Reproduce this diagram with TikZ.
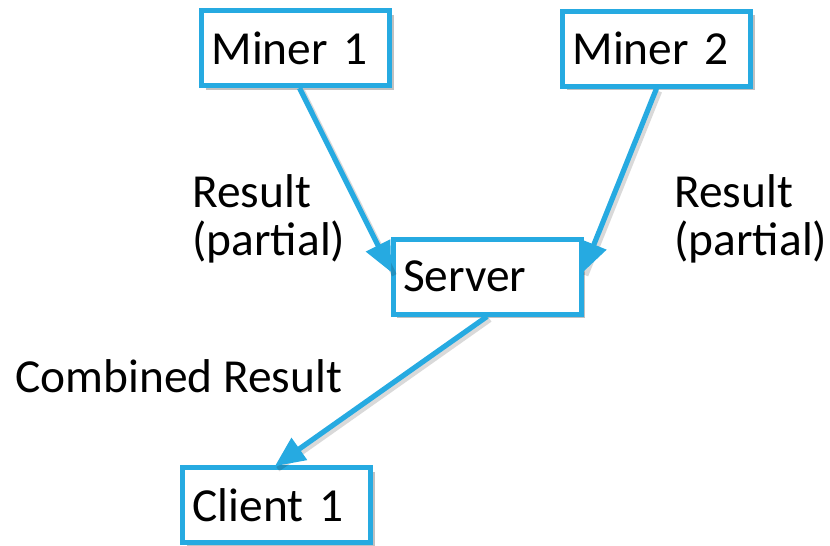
\documentclass[tikz,border=0pt]{standalone}
\usepackage{fontspec}
\setmainfont{Carlito}
\usetikzlibrary{arrows.meta,shadows}
\definecolor{lineblue}{RGB}{38,170,225}
\tikzset{
  box/.style={draw=lineblue, line width=2.5pt, fill=white, rectangle,
    inner xsep=5pt, inner ysep=0pt, text width=84pt, align=left,
    minimum height=37.5pt,
    drop shadow={shadow xshift=2pt, shadow yshift=-2pt, opacity=0.3, fill=black!80}},
  lbl/.style={inner sep=0pt, align=left},
  conn/.style={draw=lineblue, line width=2.6pt, -{Triangle[length=15pt,width=13pt]}, shorten >=-1pt,
    preaction={draw=black, opacity=0.15, line width=2.6pt, -, transform canvas={xshift=1.5pt, yshift=-1.5pt}}}
}
\begin{document}
\begin{tikzpicture}[x=0.5pt, y=-0.5pt, font=\fontsize{23.7pt}{24pt}\selectfont]
\useasboundingbox (0,0) rectangle (830,546);
\node[box] (m1) at (295.5,48) {Miner 1};
\node[box] (m2) at (656.5,48.5) {Miner 2};
\node[box] (srv) at (487,276.5) {Server};
\node[box] (cl) at (276.5,505) {Client 1};

\node[lbl, anchor=base west] (l1) at (192,255) {Result\\(partial)};
\node[lbl, anchor=base west] (l2) at (674,255) {Result\\(partial)};
\node[lbl, anchor=base west] (l3) at (15,392) {Combined Result};

\draw[conn] ([xshift=2pt]m1.south) -- ([yshift=3pt]srv.west);
\draw[conn] (m2.south) -- ([yshift=3pt]srv.east);
\draw[conn] (srv.south) -- (cl.north);
\end{tikzpicture}
\end{document}
